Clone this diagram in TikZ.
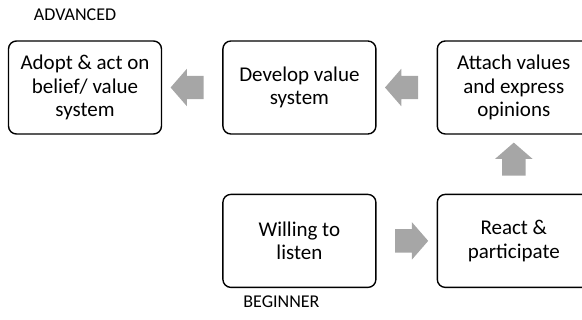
\documentclass[tikz,border=0pt]{standalone}
\usepackage{fontspec}
\setmainfont{Carlito}
\usetikzlibrary{positioning,calc,shapes.arrows}
\definecolor{arrowgray}{HTML}{A6A6A6}
\tikzset{
    stagebox/.style={draw, rectangle, rounded corners=8pt, line width=1.4pt, minimum width=153pt, minimum height=93pt, align=center, font=\fontsize{21}{23.5}\selectfont},
    blockarrow/.style={single arrow, fill=arrowgray, draw=none, inner xsep=0pt, inner ysep=11.5pt, minimum height=33pt, minimum width=37pt, single arrow head extend=7pt, single arrow tip angle=98},
    uparrow/.style={blockarrow, shape border rotate=90, inner xsep=11.5pt, inner ysep=0pt},
    levellabel/.style={inner sep=0pt, font=\fontsize{18}{21}\selectfont}
}
\begin{document}
\begin{tikzpicture}[x=1pt, y=1pt]
    \useasboundingbox (0,0) rectangle (582,-320);
    \node[stagebox] (adopt) at (85,-87.5) {Adopt \& act on\\belief/ value\\system};
    \node[stagebox, right=60pt of adopt] (develop) {Develop value\\system};
    \node[stagebox, right=60pt of develop] (attach) {Attach values\\and express\\opinions};
    \node[stagebox, below=59pt of attach] (react) {React \&\\participate};
    \node[stagebox, left=60pt of react] (willing) {Willing to\\listen};
    \node[blockarrow] (toreact) at ($(willing.east)!0.5!(react.west)$) {};
    \node[uparrow] (toattach) at ($(react.north)!0.5!(attach.south)$) {};
    \node[blockarrow, shape border rotate=180] (todevelop) at ($(attach.west)!0.5!(develop.east)$) {};
    \node[blockarrow, shape border rotate=180] (toadopt) at ($(develop.west)!0.5!(adopt.east)$) {};
    \node[levellabel, anchor=base west] (advanced) at ([xshift=26pt, yshift=20pt]adopt.north west) {ADVANCED};
    \node[levellabel, anchor=base west] (beginner) at ([xshift=21pt, yshift=-19pt]willing.south west) {BEGINNER};
\end{tikzpicture}
\end{document}
